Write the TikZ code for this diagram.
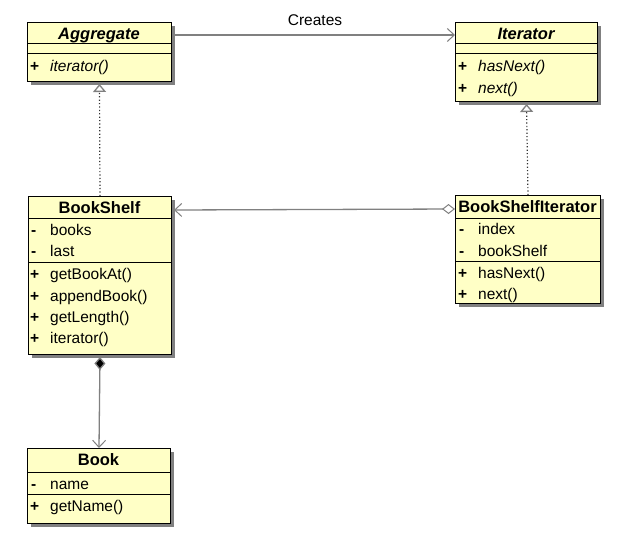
\documentclass[tikz,border=0pt]{standalone}
\usepackage{fontspec}
\setmainfont{Liberation Sans}
\usetikzlibrary{arrows.meta,shadows}
\definecolor{clsfill}{HTML}{FFFFC6}
\definecolor{conn}{HTML}{808080}
\begin{document}
\begin{tikzpicture}[x=1pt,y=-1pt,
  cls/.style={draw=black, line width=1pt, fill=clsfill, anchor=north west, inner sep=0pt,
    drop shadow={shadow xshift=3pt, shadow yshift=-3pt, fill=conn, opacity=1}},
  div/.style={draw=black, line width=1pt},
  txt/.style={anchor=base west, inner sep=0pt, font=\fontsize{15.5}{18}\selectfont},
  ttl/.style={anchor=base, inner sep=0pt, font=\fontsize{16.5}{18}\selectfont\bfseries},
  abst/.style={ttl, font=\fontsize{16.5}{18}\selectfont\bfseries\itshape},
  conline/.style={draw=conn, line width=1.3pt},
  openarrow/.style={conline, -{Straight Barb[length=7pt,width=13pt,line width=1pt]}},
  realize/.style={draw=black!80, line width=1.2pt, dash pattern=on 1.2pt off 2.2pt,
    -{Triangle[open,length=8pt,width=13pt,line width=1.3pt,fill=white,color=conn]}},
]
\useasboundingbox (0,0) rectangle (625,546);

% class boxes
\node[cls, minimum width=144pt, minimum height=59pt] (agg) at (27,22) {};
\node[cls, minimum width=142pt, minimum height=79pt] (itr) at (455,22) {};
\node[cls, minimum width=143pt, minimum height=158pt] (bs) at (28,196) {};
\node[cls, minimum width=145pt, minimum height=108pt] (bsi) at (455,195) {};
\node[cls, minimum width=143pt, minimum height=75pt] (book) at (27,448) {};

% dividers
\draw[div] (27,43) -- (171,43);
\draw[div] (27,53) -- (171,53);
\draw[div] (455,43) -- (597,43);
\draw[div] (455,53) -- (597,53);
\draw[div] (28,218) -- (171,218);
\draw[div] (28,262) -- (171,262);
\draw[div] (455,218) -- (600,218);
\draw[div] (455,261) -- (600,261);
\draw[div] (27,472) -- (170,472);
\draw[div] (27,494) -- (170,494);

% Aggregate
\node[abst] (aggT) at (99,39) {Aggregate};
\node[txt] (aggV1) at (30,71) {\textbf{+}};
\node[txt] (aggM1) at (50,71) {\itshape iterator()};

% Iterator
\node[abst] (itrT) at (526,39) {Iterator};
\node[txt] (itrV1) at (458,71) {\textbf{+}};
\node[txt] (itrM1) at (478,71) {\itshape hasNext()};
\node[txt] (itrV2) at (458,93) {\textbf{+}};
\node[txt] (itrM2) at (478,93) {\itshape next()};

% BookShelf
\node[ttl] (bsT) at (99.5,213) {BookShelf};
\node[txt] (bsV1) at (31,235) {\textbf{-}};
\node[txt] (bsA1) at (50,235) {books};
\node[txt] (bsV2) at (31,256) {\textbf{-}};
\node[txt] (bsA2) at (50,256) {last};
\node[txt] (bsV3) at (30,279) {\textbf{+}};
\node[txt] (bsM1) at (50,279) {getBookAt()};
\node[txt] (bsV4) at (30,301) {\textbf{+}};
\node[txt] (bsM2) at (50,301) {appendBook()};
\node[txt] (bsV5) at (30,322) {\textbf{+}};
\node[txt] (bsM3) at (50,322) {getLength()};
\node[txt] (bsV6) at (30,343) {\textbf{+}};
\node[txt] (bsM4) at (50,343) {iterator()};

% BookShelfIterator
\node[ttl] (bsiT) at (527.5,212) {BookShelfIterator};
\node[txt] (bsiV1) at (459,234) {\textbf{-}};
\node[txt] (bsiA1) at (478,234) {index};
\node[txt] (bsiV2) at (459,256) {\textbf{-}};
\node[txt] (bsiA2) at (478,256) {bookShelf};
\node[txt] (bsiV3) at (458,278) {\textbf{+}};
\node[txt] (bsiM1) at (478,278) {hasNext()};
\node[txt] (bsiV4) at (458,299) {\textbf{+}};
\node[txt] (bsiM2) at (478,299) {next()};

% Book
\node[ttl] (bookT) at (98.5,465) {Book};
\node[txt] (bookV1) at (31,489) {\textbf{-}};
\node[txt] (bookA1) at (50,489) {name};
\node[txt] (bookV2) at (30,511) {\textbf{+}};
\node[txt] (bookM1) at (50,511) {getName()};

% connectors
\draw[openarrow] ([xshift=3pt,yshift=-13pt]agg.north east) -- node[above=10pt, anchor=base, inner sep=0pt, text=black, font=\fontsize{15.5}{18}\selectfont] (lbl) {Creates} ([yshift=-13pt]itr.north west);
\draw[realize] (bs.north) -- ([yshift=-2pt]agg.south);
\draw[realize] (bsi.north) -- ([yshift=-2pt]itr.south);
\draw[conline, {Diamond[open,length=13pt,width=10pt,line width=1pt,fill=white]}-{Straight Barb[length=7pt,width=13pt,line width=1pt]}]
  ([yshift=-14pt]bsi.north west) -- ([xshift=2pt,yshift=-14pt]bs.north east);
\draw[conline, {Diamond[length=13pt,width=11pt,fill=black]}-{Straight Barb[length=7pt,width=13pt,line width=1pt]}]
  ([yshift=-2pt]bs.south) -- (book.north);
\end{tikzpicture}
\end{document}
